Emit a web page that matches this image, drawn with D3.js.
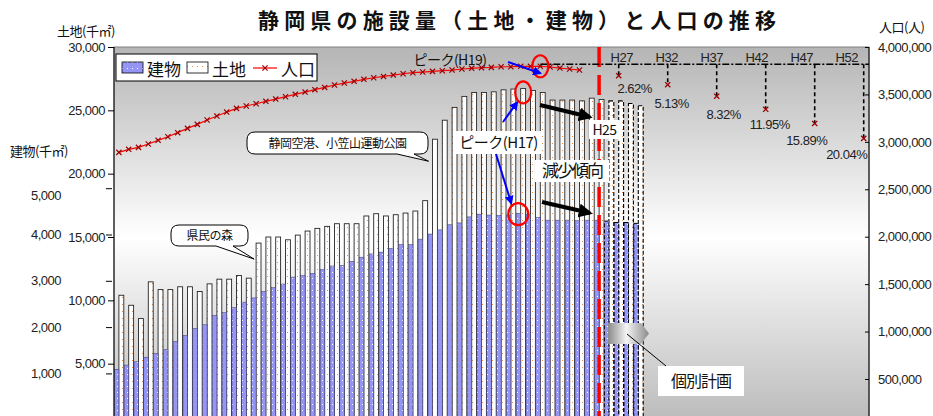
<!DOCTYPE html>
<html>
<head>
<meta charset="utf-8">
<script src="https://cdn.jsdelivr.net/npm/d3@7"></script>
<style>
  html, body { margin: 0; padding: 0; background: #fff; }
  svg { display: block; }
  .num { font-family: "Liberation Sans", Arial, sans-serif; font-size: 13px; fill: #222; letter-spacing: -0.5px; }
  .jp  { font-family: "Noto Sans CJK JP", sans-serif; fill: #111; }
</style>
</head>
<body>
<div id="chart"></div>
<script>
// ── Data ──────────────────────────────────────────────────────────────────
const firstYear = 1964;          // S39
const lastYear  = 2040;          // H52
const lastActualYear = 2013;     // H25
const peakBarYear = 2005;        // H17
const peakPopYear = 2007;        // H19

// 土地 (千㎡), 1964–2017 (2014以降は個別計画)
const landArea = [
  10400, 9610, 8560, 11460, 10850, 10850, 11070, 11070, 10700, 11300,
  11670, 11670, 11960, 11750, 14520, 15000, 15000, 14780, 15150, 15470,
  15680, 15840, 16050, 16050, 16050, 16660, 16840, 16660, 16760, 16890,
  17050, 17870, 22720, 24220, 25230, 26100, 26410, 26410, 26460, 26620,
  26680, 26730, 26570, 26410, 25810, 25810, 25810, 25750, 25960, 25860,
  25750, 25750, 25540, 25360
];

// 建物 (千㎡), 1964–2017
const buildingArea = [
  1090, 1180, 1250, 1350, 1430, 1510, 1690, 1820, 1970, 2050,
  2250, 2310, 2420, 2540, 2630, 2770, 2850, 2930, 3080, 3110,
  3160, 3240, 3320, 3330, 3420, 3510, 3580, 3620, 3700, 3780,
  3780, 3900, 4010, 4100, 4210, 4250, 4380, 4440, 4420, 4410,
  4420, 4460, 4440, 4370, 4310, 4310, 4310, 4300, 4310, 4310,
  4290, 4260, 4260, 4240
];

// 人口 (人), 1964–2011
const population = [
  2889000, 2921000, 2942000, 2977000, 3016000, 3054000, 3097000, 3142000, 3184000, 3230000,
  3272000, 3314000, 3353000, 3378000, 3402000, 3427000, 3451000, 3476000, 3501000, 3525000,
  3550000, 3574000, 3599000, 3620000, 3638000, 3659000, 3676000, 3690000, 3704000, 3718000,
  3729000, 3736000, 3743000, 3750000, 3757000, 3768000, 3775000, 3782000, 3785000, 3792000,
  3792000, 3796000, 3796000, 3797000, 3789000, 3778000, 3768000, 3757000
];

// 将来推計 (ピーク比減少率)
const projYears  = [2015, 2020, 2025, 2030, 2035, 2040];
const projLabels = ["H27", "H32", "H37", "H42", "H47", "H52"];
const projRates  = [2.62, 5.13, 8.32, 11.95, 15.89, 20.04];

const landTicks     = [5000, 10000, 15000, 20000, 25000, 30000];
const buildingTicks = [1000, 2000, 3000, 4000, 5000];
const popTicks      = [500000, 1000000, 1500000, 2000000, 2500000, 3000000, 3500000, 4000000];

// ── Layout ────────────────────────────────────────────────────────────────
const totalW = 933, totalH = 416;
const plot = { left: 114, right: 869, top: 47, bottom: 427 };

const svg = d3.select("#chart").append("svg")
  .attr("width", totalW).attr("height", totalH);

const defs = svg.append("defs");

const bg = defs.append("linearGradient").attr("id", "bgGrad")
  .attr("x1", 0).attr("y1", 0).attr("x2", 0).attr("y2", 1);
bg.append("stop").attr("offset", "0%").attr("stop-color", "#b5b5b5");
bg.append("stop").attr("offset", "50%").attr("stop-color", "#ffffff");
bg.append("stop").attr("offset", "100%").attr("stop-color", "#b9b9b9");

const blockGrad = defs.append("linearGradient").attr("id", "blockGrad")
  .attr("x1", 0).attr("y1", 0).attr("x2", 1).attr("y2", 0);
blockGrad.append("stop").attr("offset", "0%").attr("stop-color", "#8a8a8a");
blockGrad.append("stop").attr("offset", "45%").attr("stop-color", "#f4f4f4");
blockGrad.append("stop").attr("offset", "100%").attr("stop-color", "#8a8a8a");

// 建物 pattern: periwinkle with white dots
const bPat = defs.append("pattern").attr("id", "bldPat")
  .attr("patternUnits", "userSpaceOnUse").attr("width", 5).attr("height", 6);
bPat.append("rect").attr("width", 5).attr("height", 6).attr("fill", "#9595f5");
bPat.append("rect").attr("x", 2).attr("y", 2).attr("width", 1).attr("height", 1).attr("fill", "#fff");

// 土地 pattern: white with orange dots
const lPat = defs.append("pattern").attr("id", "landPat")
  .attr("patternUnits", "userSpaceOnUse").attr("width", 5).attr("height", 7);
lPat.append("rect").attr("width", 5).attr("height", 7).attr("fill", "#fff");
lPat.append("rect").attr("x", 2).attr("y", 3).attr("width", 1).attr("height", 1).attr("fill", "#e0904a");

const mkArrow = (id, color, size) => {
  defs.append("marker").attr("id", id)
    .attr("viewBox", "0 0 10 10").attr("refX", 8).attr("refY", 5)
    .attr("markerWidth", size).attr("markerHeight", size)
    .attr("markerUnits", "userSpaceOnUse")
    .attr("orient", "auto")
    .append("path").attr("d", "M0,0L10,5L0,10Z").attr("fill", color);
};
mkArrow("arrBlue", "#0000ff", 9);
mkArrow("arrBlack", "#000", 14);

// ── Scales ────────────────────────────────────────────────────────────────
const years = d3.range(firstYear, lastYear + 1);
const x = d3.scaleBand().domain(years).range([plot.left, plot.right - 0.4]);
const bw = x.bandwidth();
const xc = yr => x(yr) + bw / 2;

const yLand  = d3.scaleLinear().domain([0, 30000]).range([427, 47]);
const yBuild = d3.scaleLinear().domain([0, 5000]).range([419.7, 188.2]);
const yPop   = d3.scaleLinear().domain([0, 4000000]).range([426.4, 47]);

// ── Plot background ───────────────────────────────────────────────────────
svg.append("rect")
  .attr("x", plot.left).attr("y", plot.top)
  .attr("width", plot.right - plot.left).attr("height", plot.bottom - plot.top)
  .attr("fill", "url(#bgGrad)").attr("stroke", "#808080").attr("stroke-width", 1);

// ── Bars ──────────────────────────────────────────────────────────────────
const barData = landArea.map((v, i) => ({ year: firstYear + i, land: v, bld: buildingArea[i] }));
const isPlan = d => d.year > lastActualYear;

const gBars = svg.append("g");
gBars.selectAll("rect.land").data(barData).join("rect")
  .attr("class", "land")
  .attr("x", d => x(d.year) + bw / 2)
  .attr("width", bw / 2)
  .attr("y", d => yLand(d.land))
  .attr("height", d => yLand(0) - yLand(d.land))
  .attr("fill", "url(#landPat)")
  .attr("stroke", d => isPlan(d) ? "#000" : "#262626")
  .attr("stroke-width", d => isPlan(d) ? 1.1 : 0.9)
  .attr("stroke-dasharray", d => isPlan(d) ? "4,2" : null);

gBars.selectAll("rect.bld").data(barData).join("rect")
  .attr("class", "bld")
  .attr("x", d => x(d.year) + 0.4)
  .attr("width", bw / 2 - 0.4)
  .attr("y", d => yBuild(d.bld))
  .attr("height", d => yBuild(0) - yBuild(d.bld) + 10)
  .attr("fill", "url(#bldPat)")
  .attr("stroke", d => isPlan(d) ? "#000" : "#3a3a6a")
  .attr("stroke-width", d => isPlan(d) ? 1 : 0.5)
  .attr("stroke-dasharray", d => isPlan(d) ? "4,2" : null);

// ── H25 boundary ──────────────────────────────────────────────────────────
svg.append("line")
  .attr("x1", xc(lastActualYear)).attr("x2", xc(lastActualYear))
  .attr("y1", plot.top).attr("y2", totalH + 10)
  .attr("stroke", "#ff0000").attr("stroke-width", 3.5)
  .attr("stroke-dasharray", "20,8");

// ── Axes ──────────────────────────────────────────────────────────────────
const fmt = d3.format(",");

const axL = svg.append("g").attr("class", "num")
  .attr("transform", `translate(${plot.left},0)`)
  .call(d3.axisLeft(yLand).tickValues(landTicks).tickSize(6).tickPadding(3).tickFormat(fmt));
axL.select(".domain").attr("stroke", "#000").attr("d", `M0,${plot.top}V${plot.bottom}`);

const axB = svg.append("g").attr("class", "num")
  .attr("transform", `translate(${plot.left - 2},0)`)
  .call(d3.axisLeft(yBuild).tickValues(buildingTicks).tickSize(6).tickPadding(45).tickFormat(fmt));
axB.select(".domain").remove();
// the 5,000 label sits a little below its tick in the original
axB.selectAll(".tick").filter(d => d === 5000).select("text").attr("y", 7);

const axR = svg.append("g").attr("class", "num")
  .attr("transform", `translate(${plot.right},0)`)
  .call(d3.axisRight(yPop).tickValues(popTicks).tickSize(-4).tickPadding(9).tickFormat(fmt));
axR.select(".domain").attr("stroke", "#000").attr("d", `M0,${plot.top}V${plot.bottom}`);

[axL, axB, axR].forEach(a => {
  a.attr("font-family", null).attr("font-size", null);
  a.selectAll("text").attr("class", "num");
});

// axis titles
svg.append("text").attr("class", "jp").attr("x", 57).attr("y", 36)
  .attr("font-size", 13).attr("letter-spacing", "-0.5px").text("土地(千㎡)");
svg.append("text").attr("class", "jp").attr("x", 10).attr("y", 156)
  .attr("font-size", 13).attr("letter-spacing", "-0.5px").text("建物(千㎡)");
svg.append("text").attr("class", "jp").attr("x", 879).attr("y", 32)
  .attr("font-size", 13).attr("letter-spacing", "-0.5px").text("人口(人)");

// title
svg.append("text").attr("class", "jp")
  .attr("x", 258).attr("y", 28)
  .attr("font-size", 21).attr("font-weight", 700)
  .attr("textLength", 518).attr("lengthAdjust", "spacing")
  .attr("fill", "#222")
  .text("静岡県の施設量（土地・建物）と人口の推移");

// ── Population line ───────────────────────────────────────────────────────
const popData = population.map((v, i) => ({ year: firstYear + i, v }));
const xMark = s => `M${-s},${-s}L${s},${s}M${-s},${s}L${s},${-s}`;

svg.append("path").datum(popData)
  .attr("fill", "none").attr("stroke", "#ff0000").attr("stroke-width", 1.2)
  .attr("d", d3.line().x(d => xc(d.year)).y(d => yPop(d.v)));

svg.append("g").selectAll("path").data(popData).join("path")
  .attr("transform", d => `translate(${xc(d.year)},${yPop(d.v)})`)
  .attr("d", xMark(2.6))
  .attr("stroke", "#9b0000").attr("stroke-width", 1.2).attr("fill", "none");

// ── Projection (peak reference & declines) ───────────────────────────────
const peakPop = d3.max(population);
const peakY = yPop(peakPop) - 2;
const projData = projYears.map((yr, i) => ({
  year: yr, label: projLabels[i], rate: projRates[i],
  v: peakPop * (1 - projRates[i] / 100)
}));

svg.append("line")
  .attr("x1", xc(peakPopYear)).attr("x2", plot.right)
  .attr("y1", peakY).attr("y2", peakY)
  .attr("stroke", "#000").attr("stroke-width", 1.6)
  .attr("stroke-dasharray", "7,2,2,2");

const gProj = svg.append("g");
gProj.selectAll("line").data(projData).join("line")
  .attr("x1", d => xc(d.year)).attr("x2", d => xc(d.year))
  .attr("y1", peakY).attr("y2", d => yPop(d.v))
  .attr("stroke", "#000").attr("stroke-width", 1.6).attr("stroke-dasharray", "4,3");

gProj.selectAll("path").data(projData).join("path")
  .attr("transform", d => `translate(${xc(d.year)},${yPop(d.v)})`)
  .attr("d", xMark(2.6))
  .attr("stroke", "#9b0000").attr("stroke-width", 1.3);

// era labels above the peak line
gProj.selectAll("text.era").data(projData).join("text")
  .attr("class", "num era")
  .attr("x", (d, i) => xc(d.year) + 3 - 4 * i)
  .attr("y", 62).attr("text-anchor", "middle")
  .text(d => d.label);

// decline-rate labels
const rateOffset = [[16, 17], [4, 23], [7, 23], [4, 20], [-8, 22], [-17, 21]];
gProj.selectAll("text.rate").data(projData).join("text")
  .attr("class", "num rate")
  .attr("x", (d, i) => xc(d.year) + rateOffset[i][0])
  .attr("y", (d, i) => yPop(d.v) + rateOffset[i][1])
  .attr("text-anchor", "middle")
  .text(d => `${d.rate.toFixed(2)}%`);

// ── Annotations ───────────────────────────────────────────────────────────
const ann = svg.append("g");

const peakLand = landArea[peakBarYear - firstYear];
const peakBld  = buildingArea[peakBarYear - firstYear];
const cPop  = [xc(peakPopYear), yPop(peakPop)];
const cLand = [x(peakBarYear) + bw * 0.75, yLand(peakLand) + 4];
const cBld  = [x(peakBarYear) + bw * 0.25, yBuild(peakBld) + 1];

// callouts (rounded box with tail)
const callout = (x0, y0, w, h, tail, label, fs) => {
  const r = 8;
  const [t1, tip, t2] = tail;
  const p = `M${x0 + r},${y0}H${x0 + w - r}Q${x0 + w},${y0} ${x0 + w},${y0 + r}` +
    `V${y0 + h - r}Q${x0 + w},${y0 + h} ${x0 + w - r},${y0 + h}` +
    `H${t2}L${tip[0]},${tip[1]}L${t1},${y0 + h}` +
    `H${x0 + r}Q${x0},${y0 + h} ${x0},${y0 + h - r}V${y0 + r}Q${x0},${y0} ${x0 + r},${y0}Z`;
  ann.append("path").attr("d", p).attr("fill", "#fff").attr("stroke", "#000").attr("stroke-width", 1);
  ann.append("text").attr("class", "jp")
    .attr("x", x0 + w / 2).attr("y", y0 + h / 2 + fs * 0.38)
    .attr("text-anchor", "middle").attr("font-size", fs).attr("letter-spacing", "-0.5px")
    .text(label);
};
callout(247, 132, 181, 22, [397, [xc(1996) - 4, yLand(landArea[1996 - firstYear]) + 22], 414], "静岡空港、小笠山運動公園", 12);
callout(171, 225, 77, 21, [216, [xc(1978) - 2, yLand(landArea[1978 - firstYear]) + 16], 233], "県民の森", 12);

// white label boxes
const boxLabel = (x0, y0, w, h, label, fs, ls) => {
  ann.append("rect").attr("x", x0).attr("y", y0).attr("width", w).attr("height", h).attr("fill", "#fff");
  ann.append("text").attr("class", "jp")
    .attr("x", x0 + w / 2).attr("y", y0 + h / 2 + fs * 0.38)
    .attr("text-anchor", "middle").attr("font-size", fs).attr("letter-spacing", `${ls}px`)
    .text(label);
};
boxLabel(456, 131, 85, 23, "ピーク(H17)", 15, -0.5);
boxLabel(589, 120, 31, 19, "H25", 14, -0.5);
boxLabel(535, 160, 74, 22, "減少傾向", 17, -2);
boxLabel(658, 366, 86, 30, "個別計画", 16, -1);

ann.append("text").attr("class", "jp")
  .attr("x", 450).attr("y", 65).attr("text-anchor", "middle")
  .attr("font-size", 14).attr("letter-spacing", "-0.5px")
  .text("ピーク(H19)");

// red ellipses around peaks
[[cPop, 8, 11], [cLand, 8, 11], [cBld, 10, 11]].forEach(([c, rx, ry]) => {
  ann.append("ellipse").attr("cx", c[0]).attr("cy", c[1]).attr("rx", rx).attr("ry", ry)
    .attr("fill", "none").attr("stroke", "#ff0000").attr("stroke-width", 2.2);
});

// blue pointer arrows
const arrow = (x1, y1, x2, y2, color, width, marker) => {
  ann.append("line").attr("x1", x1).attr("y1", y1).attr("x2", x2).attr("y2", y2)
    .attr("stroke", color).attr("stroke-width", width).attr("marker-end", `url(#${marker})`);
};
arrow(508, 62, cPop[0], cPop[1] + 7, "#0000ff", 2, "arrBlue");
arrow(503, 122, cLand[0] - 6, cLand[1] + 10, "#0000ff", 2, "arrBlue");
arrow(496, 154, cBld[0] - 7, cBld[1] - 11, "#0000ff", 2, "arrBlue");

// black decline arrows
arrow(540, 105, 590, 117, "#000", 4, "arrBlack");
arrow(542, 202, 590, 213, "#000", 4, "arrBlack");

// block arrow pointing to planned bars + connector
ann.append("path")
  .attr("d", "M608,323H641L649,333.5L641,344H608Z")
  .attr("fill", "url(#blockGrad)");
ann.append("line").attr("x1", 627).attr("y1", 334).attr("x2", 666).attr("y2", 366)
  .attr("stroke", "#000").attr("stroke-width", 1);

// ── Legend ────────────────────────────────────────────────────────────────
const lg = svg.append("g");
lg.append("rect").attr("x", 116).attr("y", 54).attr("width", 201).attr("height", 27)
  .attr("fill", "#fff").attr("stroke", "#000").attr("stroke-width", 1);
lg.append("rect").attr("x", 122).attr("y", 62).attr("width", 21).attr("height", 11)
  .attr("fill", "url(#bldPat)").attr("stroke", "#000").attr("stroke-width", 0.8);
lg.append("text").attr("class", "jp").attr("x", 147).attr("y", 76).attr("font-size", 17).text("建物");
lg.append("rect").attr("x", 187).attr("y", 62).attr("width", 21).attr("height", 11)
  .attr("fill", "url(#landPat)").attr("stroke", "#000").attr("stroke-width", 0.8);
lg.append("text").attr("class", "jp").attr("x", 212).attr("y", 76).attr("font-size", 17).text("土地");
lg.append("line").attr("x1", 253).attr("x2", 277).attr("y1", 68).attr("y2", 68)
  .attr("stroke", "#ff0000").attr("stroke-width", 1.2);
lg.append("path").attr("transform", "translate(265,68)").attr("d", xMark(2.6))
  .attr("stroke", "#9b0000").attr("stroke-width", 1.2);
lg.append("text").attr("class", "jp").attr("x", 281).attr("y", 76).attr("font-size", 17).text("人口");
</script>
</body>
</html>
